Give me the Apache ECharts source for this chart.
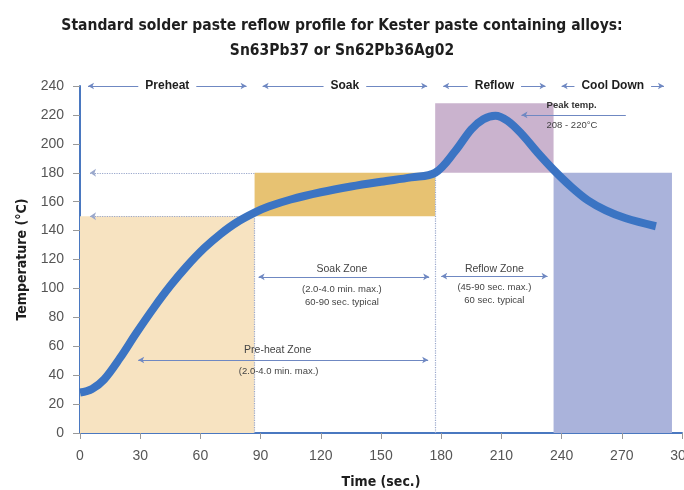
<!DOCTYPE html>
<html>
<head>
<meta charset="utf-8">
<script src="https://cdn.jsdelivr.net/npm/echarts@6/dist/echarts.min.js"></script>
<style>
html,body{margin:0;padding:0;background:#fff;}
#c{width:684px;height:490px;}
</style>
</head>
<body>
<div id="c"></div>
<script>
// ---- data ----
const times = [0, 6, 12, 20, 28, 37, 45, 53, 62, 70, 78, 87, 94, 105, 120, 135, 150, 165, 177, 187, 195, 201, 207, 213, 220, 228, 236, 245, 253, 262, 272, 287];
const temps = [28, 30.5, 37, 52, 69, 87, 101.8, 115, 128, 137.6, 145.6, 152.4, 156.6, 161.5, 166.5, 170.5, 173.8, 176.8, 180, 195, 210, 217, 219.5, 216, 207, 194, 182, 170, 161, 154, 148.5, 143];

const zoneNames = ['Preheat', 'Soak', 'Reflow', 'Cool Down'];
const zoneStart = [0, 87, 177, 236];
const zoneEnd = [87, 177, 236, 295];
const zoneLow = [0, 150, 180, 0];
const zoneHigh = [150, 180, 228, 180];

const titleText = 'Standard solder paste reflow profile for Kester paste containing alloys:\nSn63Pb37 or Sn62Pb36Ag02';
const soakTitle = 'Soak Zone';
const soakNote = '(2.0-4.0 min. max.)\n60-90 sec. typical';
const reflowTitle = 'Reflow Zone';
const reflowNote = '(45-90 sec. max.)\n60 sec. typical';
const preTitle = 'Pre-heat Zone';
const preNote = '(2.0-4.0 min. max.)';
const peakTitle = 'Peak temp.';
const peakNote = '208 - 220°C';

// ---- styles ----
const zoneColors = ['#f7e3c1', '#e7c272', '#cab3ce', '#aab3db'];
const axisBlue = '#4a78c0';
const arrowBlue = '#6f88c2';
const txt = '#444';
const condensed = '"DejaVu Sans Condensed", "DejaVu Sans", sans-serif';

const pt = (x, y, extra) => Object.assign({ coord: [x, y] }, extra || {});

const zoneAreas = zoneNames.map((n, i) => [
  { coord: [zoneStart[i], zoneLow[i]], itemStyle: { color: zoneColors[i] } },
  { coord: [zoneEnd[i], zoneHigh[i]] }
]);

const phaseLines = zoneNames.map((n, i) => [
  pt(zoneStart[i] + 4, 240),
  pt(zoneEnd[i] - 4, 240)
]);
const phaseLabels = zoneNames.map((n, i) => pt((zoneStart[i] + zoneEnd[i]) / 2, 240, { label: { formatter: n } }));

const dotted = { type: 'dotted', color: '#9aa8cc', width: 1.2 };

const option = {
  animation: false,
  backgroundColor: '#fff',
  title: {
    text: titleText,
    left: 'center',
    top: 8,
    textStyle: {
      fontFamily: condensed,
      fontWeight: 'bold',
      fontSize: 15.5,
      lineHeight: 25,
      color: '#1e1e1e'
    }
  },
  grid: { left: 80, right: 2, top: 86, bottom: 57, containLabel: false, outerBoundsMode: 'none' },
  xAxis: {
    type: 'value',
    min: 0, max: 300, interval: 30,
    name: 'Time (sec.)',
    nameLocation: 'middle',
    nameGap: 42,
    nameTextStyle: { fontFamily: condensed, fontWeight: 'bold', fontSize: 14, color: '#1e1e1e' },
    axisLine: { show: true, lineStyle: { color: axisBlue, width: 2 } },
    axisTick: { show: true, length: 6, lineStyle: { color: '#999' } },
    axisLabel: { color: '#555', fontSize: 14, margin: 16, fontFamily: 'Liberation Sans', hideOverlap: false },
    splitLine: { show: false }
  },
  yAxis: {
    type: 'value',
    min: 0, max: 240, interval: 20,
    name: 'Temperature (°C)',
    nameLocation: 'middle',
    nameGap: 50,
    nameTextStyle: { fontFamily: condensed, fontWeight: 'bold', fontSize: 14, color: '#1e1e1e' },
    axisLine: { show: true, lineStyle: { color: axisBlue, width: 2 } },
    axisTick: { show: true, length: 7, lineStyle: { color: '#999' } },
    axisLabel: { color: '#555', fontSize: 14, margin: 16, fontFamily: 'Liberation Sans' },
    splitLine: { show: false }
  },
  series: [
    {
      type: 'line',
      data: [],
      z: 1,
      silent: true,
      markArea: { silent: true, data: zoneAreas },
      markLine: {
        silent: true,
        animation: false,
        data: [
          [pt(5, 180, { symbol: 'arrow' }), pt(87, 180, { symbol: 'none' })],
          [pt(5, 150, { symbol: 'arrow' }), pt(87, 150, { symbol: 'none' })],
          [pt(87, 0, { symbol: 'none' }), pt(87, 150, { symbol: 'none' })],
          [pt(177, 0, { symbol: 'none' }), pt(177, 180, { symbol: 'none' })]
        ],
        symbolSize: [6, 6],
        lineStyle: dotted,
        itemStyle: { color: '#4a6fb0' },
        label: { show: false }
      }
    },
    {
      type: 'line',
      data: [],
      z: 2,
      silent: true,
      markLine: {
        silent: true,
        symbol: ['arrow', 'arrow'],
        symbolSize: [5, 6],
        lineStyle: { type: 'solid', color: arrowBlue, width: 1 },
        label: { show: false },
        data: phaseLines.concat([
          [pt(89, 108), pt(174, 108)],
          [pt(180, 108.5), pt(233, 108.5)],
          [pt(29, 50.5), pt(173.5, 50.5)],
          [pt(272, 220, { symbol: 'none' }), pt(220, 220, { symbol: 'arrow' })]
        ])
      }
    },
    {
      type: 'line',
      data: [],
      z: 3,
      silent: true,
      markPoint: {
        silent: true,
        symbol: 'circle',
        symbolSize: 1,
        itemStyle: { color: 'rgba(0,0,0,0)' },
        label: {
          show: true,
          position: 'inside',
          color: '#1e1e1e',
          fontFamily: 'Liberation Sans',
          fontWeight: 'bold',
          fontSize: 12,
          backgroundColor: '#fff',
          padding: [2, 7],
          align: 'center',
          verticalAlign: 'middle'
        },
        data: phaseLabels
      }
    },
    {
      type: 'line',
      data: [],
      z: 3,
      silent: true,
      markPoint: {
        silent: true,
        symbol: 'circle',
        symbolSize: 1,
        itemStyle: { color: 'rgba(0,0,0,0)' },
        label: {
          show: true,
          position: 'inside',
          color: txt,
          fontFamily: 'Liberation Sans',
          fontSize: 9.5,
          lineHeight: 13,
          align: 'center',
          verticalAlign: 'middle'
        },
        data: [
          pt(130.5, 113.5, { label: { formatter: soakTitle, fontSize: 10.5 } }),
          pt(130.5, 94.5, { label: { formatter: soakNote } }),
          pt(206.5, 113.5, { label: { formatter: reflowTitle, fontSize: 10.5 } }),
          pt(206.5, 96.5, { label: { formatter: reflowNote } }),
          pt(98.5, 57.5, { label: { formatter: preTitle, fontSize: 10.5 } }),
          pt(99, 42.5, { label: { formatter: preNote } }),
          pt(232.5, 226.8, { label: { formatter: peakTitle, align: 'left', fontWeight: 'bold', color: '#333' } }),
          pt(232.5, 213, { label: { formatter: peakNote, align: 'left' } })
        ]
      }
    },
    {
      type: 'line',
      name: 'Profile',
      z: 5,
      smooth: 0.35,
      showSymbol: false,
      silent: true,
      data: times.map((t, i) => [t, temps[i]]),
      lineStyle: { color: '#3b74c3', width: 8, cap: 'butt' }
    }
  ]
};

const chart = echarts.init(document.getElementById('c'), null, { renderer: 'canvas' });
chart.setOption(option);
</script>
</body>
</html>
